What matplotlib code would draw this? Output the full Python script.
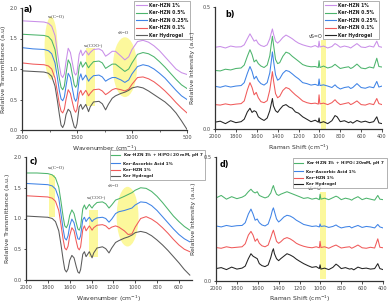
import matplotlib
matplotlib.use("Agg")
import matplotlib.pyplot as plt
from matplotlib.patches import Ellipse, Rectangle
from matplotlib.lines import Line2D

plt.rcParams['font.family'] = ['DejaVu Sans']

# ---------------- data ----------------
FX = [2000, 1900, 1800, 1760, 1730, 1700, 1680, 1660, 1645, 1630, 1615, 1600, 1580, 1560, 1540, 1525,
      1512, 1500, 1480, 1465, 1450, 1435, 1420, 1405, 1395, 1380, 1350, 1300, 1270, 1240, 1215, 1180,
      1150, 1100, 1065, 1030, 1000, 950, 900, 850, 800, 750, 700, 650, 600, 550, 500]

a_hydrogel = [0.97, 0.96, 0.95, 0.93, 0.88, 0.72, 0.50, 0.25, 0.08, 0.04, 0.10, 0.25, 0.34, 0.30, 0.15, 0.05,
              0.03, 0.10, 0.38, 0.42, 0.34, 0.38, 0.42, 0.35, 0.30, 0.38, 0.46, 0.47, 0.43, 0.33, 0.42, 0.52,
              0.56, 0.60, 0.62, 0.65, 0.69, 0.71, 0.69, 0.64, 0.58, 0.52, 0.46, 0.38, 0.28, 0.15, 0.01]
a_hzn01 = [1.10, 1.08, 1.07, 1.05, 1.00, 0.85, 0.64, 0.42, 0.31, 0.28, 0.34, 0.50, 0.66, 0.60, 0.44, 0.33,
           0.29, 0.34, 0.60, 0.65, 0.57, 0.61, 0.65, 0.60, 0.56, 0.60, 0.66, 0.67, 0.64, 0.58, 0.61, 0.66,
           0.68, 0.66, 0.64, 0.67, 0.75, 0.86, 0.87, 0.84, 0.79, 0.72, 0.64, 0.55, 0.45, 0.36, 0.28]
a_hzn025 = [1.35, 1.33, 1.32, 1.30, 1.25, 1.10, 0.88, 0.64, 0.51, 0.48, 0.54, 0.72, 0.93, 0.86, 0.66, 0.52,
            0.47, 0.52, 0.84, 0.92, 0.82, 0.86, 0.90, 0.84, 0.80, 0.84, 0.89, 0.90, 0.87, 0.80, 0.83, 0.86,
            0.86, 0.82, 0.78, 0.82, 0.92, 1.04, 1.07, 1.05, 1.00, 0.93, 0.85, 0.75, 0.65, 0.56, 0.50]
a_hzn05 = [1.57, 1.56, 1.55, 1.53, 1.47, 1.32, 1.08, 0.84, 0.70, 0.66, 0.72, 0.92, 1.15, 1.08, 0.88, 0.74,
           0.70, 0.74, 1.04, 1.12, 1.03, 1.07, 1.11, 1.05, 1.02, 1.06, 1.12, 1.13, 1.10, 1.01, 1.04, 1.08,
           1.08, 1.01, 0.96, 1.00, 1.10, 1.24, 1.27, 1.25, 1.20, 1.12, 1.03, 0.93, 0.83, 0.74, 0.68]
a_hzn1 = [1.79, 1.78, 1.77, 1.75, 1.70, 1.55, 1.30, 1.05, 0.90, 0.86, 0.92, 1.12, 1.34, 1.27, 1.08, 0.94,
          0.90, 0.94, 1.24, 1.31, 1.22, 1.26, 1.30, 1.26, 1.23, 1.27, 1.32, 1.33, 1.30, 1.21, 1.24, 1.29,
          1.29, 1.21, 1.15, 1.20, 1.32, 1.45, 1.47, 1.44, 1.38, 1.30, 1.20, 1.10, 1.00, 0.94, 0.91]

c_hydrogel = [1.04, 1.03, 1.02, 1.00, 0.95, 0.80, 0.58, 0.33, 0.17, 0.13, 0.18, 0.32, 0.40, 0.36, 0.22, 0.13,
              0.11, 0.17, 0.42, 0.46, 0.38, 0.42, 0.46, 0.40, 0.36, 0.44, 0.52, 0.54, 0.51, 0.44, 0.52, 0.61,
              0.64, 0.68, 0.70, 0.73, 0.77, 0.79, 0.77, 0.72, 0.65, 0.57, 0.48, 0.38, 0.28, 0.17, 0.08]
c_hzn1 = [1.37, 1.36, 1.35, 1.33, 1.28, 1.13, 0.90, 0.66, 0.52, 0.49, 0.55, 0.72, 0.85, 0.80, 0.63, 0.52,
          0.49, 0.54, 0.82, 0.88, 0.80, 0.84, 0.88, 0.84, 0.81, 0.85, 0.89, 0.90, 0.88, 0.83, 0.86, 0.88,
          0.86, 0.80, 0.74, 0.75, 0.86, 1.00, 1.03, 0.99, 0.93, 0.85, 0.76, 0.66, 0.57, 0.50, 0.46]
c_ascorbic = [1.57, 1.56, 1.55, 1.53, 1.48, 1.33, 1.08, 0.83, 0.68, 0.65, 0.72, 0.88, 0.99, 0.93, 0.77, 0.67,
              0.66, 0.72, 0.98, 1.02, 0.95, 0.99, 1.02, 0.98, 0.95, 0.98, 1.01, 1.02, 1.00, 0.94, 0.99, 1.08,
              1.11, 1.13, 1.15, 1.17, 1.22, 1.27, 1.26, 1.21, 1.13, 1.03, 0.93, 0.83, 0.74, 0.67, 0.62]
c_h3po4 = [1.74, 1.74, 1.73, 1.71, 1.66, 1.51, 1.28, 1.03, 0.88, 0.85, 0.91, 1.05, 1.14, 1.08, 0.93, 0.83,
           0.81, 0.87, 1.16, 1.22, 1.15, 1.19, 1.23, 1.19, 1.17, 1.21, 1.26, 1.27, 1.24, 1.17, 1.22, 1.30,
           1.32, 1.36, 1.39, 1.42, 1.46, 1.50, 1.49, 1.44, 1.36, 1.26, 1.15, 1.04, 0.95, 0.87, 0.81]

RX = [2000, 1950, 1900, 1850, 1800, 1750, 1720, 1690, 1665, 1645, 1625, 1605, 1585, 1560, 1530, 1500,
      1475, 1460, 1450, 1440, 1420, 1400, 1380, 1350, 1320, 1290, 1260, 1230, 1200, 1160, 1120, 1080,
      1040, 1010, 1003, 995, 960, 920, 880, 850, 830, 800, 760, 720, 700, 680, 640, 600, 560, 520,
      480, 450, 430, 400]

b_hzn1 = [.335, .338, .332, .34, .336, .337, .345, .37, .39, .375, .36, .365, .35, .342, .338, .345,
          .37, .395, .41, .39, .36, .352, .36, .375, .385, .378, .37, .36, .352, .345, .34, .336,
          .342, .335, .36, .336, .34, .332, .338, .35, .345, .335, .34, .336, .332, .338, .35, .336, .334, .34,
          .336, .36, .338, .335]
b_hzn05 = [.24, .238, .245, .242, .248, .25, .262, .298, .325, .305, .275, .283, .268, .258, .252, .262,
           .3, .35, .38, .348, .285, .268, .272, .298, .315, .31, .298, .288, .278, .264, .258, .255,
           .256, .252, .28, .252, .258, .25, .255, .265, .258, .248, .252, .255, .248, .252, .266, .25, .247, .254,
           .25, .29, .256, .254]
b_hzn025 = [.175, .171, .177, .172, .176, .178, .19, .228, .256, .236, .205, .216, .198, .186, .18, .19,
            .23, .28, .316, .282, .222, .2, .206, .228, .24, .236, .226, .215, .206, .19, .186, .18,
            .183, .178, .205, .178, .181, .176, .17, .181, .172, .164, .17, .173, .166, .17, .186, .17, .167, .173,
            .169, .195, .172, .176]
b_hzn01 = [.1, .098, .103, .099, .102, .104, .115, .16, .19, .17, .14, .15, .128, .112, .108, .116,
           .16, .205, .235, .2, .145, .128, .134, .158, .17, .165, .152, .14, .13, .115, .108, .104,
           .106, .102, .14, .103, .106, .1, .108, .12, .11, .1, .104, .108, .1, .104, .115, .1, .098, .104,
           .1, .125, .104, .1]
b_hydrogel = [.028, .032, .022, .034, .026, .03, .04, .07, .085, .068, .075, .07, .05, .042, .035, .045,
              .075, .105, .125, .095, .075, .068, .08, .095, .1, .09, .085, .07, .065, .05, .04, .03,
              .036, .028, .045, .025, .03, .022, .034, .055, .05, .03, .034, .026, .03, .024, .035, .028, .032, .026,
              .03, .05, .025, .022]

d_h3po4 = [.335, .345, .33, .34, .332, .338, .345, .36, .37, .36, .355, .36, .345, .34, .335, .34,
           .355, .375, .385, .37, .35, .345, .35, .355, .36, .355, .35, .345, .34, .333, .336, .33,
           .334, .328, .35, .33, .334, .328, .336, .342, .338, .328, .334, .33, .326, .332, .34, .328, .334, .33,
           .326, .345, .33, .328]
d_ascorbic = [.222, .218, .224, .22, .223, .224, .235, .27, .29, .27, .245, .25, .235, .226, .222, .23,
              .26, .285, .295, .28, .25, .238, .245, .258, .265, .262, .255, .245, .238, .228, .224, .22,
              .222, .218, .23, .22, .222, .216, .22, .226, .22, .214, .218, .22, .214, .218, .224, .216, .22, .218,
              .214, .228, .218, .214]
d_hzn1 = [.135, .132, .138, .134, .136, .138, .15, .185, .2, .185, .16, .17, .152, .142, .138, .145,
          .175, .195, .205, .19, .16, .152, .158, .17, .175, .17, .162, .152, .146, .14, .136, .134,
          .138, .134, .16, .135, .138, .132, .14, .145, .14, .133, .136, .138, .132, .136, .145, .134, .132, .136,
          .133, .17, .136, .134]
d_hydrogel = [.05, .054, .046, .056, .048, .052, .06, .09, .11, .1, .095, .09, .07, .062, .058, .065,
              .095, .12, .13, .11, .09, .082, .09, .1, .11, .105, .098, .088, .08, .07, .062, .055,
              .058, .05, .065, .048, .052, .046, .055, .068, .062, .05, .054, .048, .05, .045, .056, .05, .052, .048,
              .05, .07, .05, .046]

labels_ab = ["Ker-HZN 1%", "Ker-HZN 0.5%", "Ker-HZN 0.25%", "Ker-HZN 0.1%", "Ker Hydrogel"]
labels_c = ["Ker-HZN 1% + H$_3$PO$_4$ 20 mM, pH 7", "Ker-Ascorbic Acid 1%", "Ker-HZN 1%", "Ker Hydrogel"]
labels_d = ["Ker-HZN 1% + H$_3$PO$_4$ 20mM, pH 7", "Ker-Ascorbic Acid 1%", "Ker-HZN 1%", "Ker Hydrogel"]

VIOLET, GREEN, BLUE, RED = "#c98ee8", "#4cb46c", "#3f83e6", "#f05a5a"
GRAY, BLACK = "#5a5a5a", "#222222"
YELLOW = "#fcf89c"

TICK_FS = 3.6
LABEL_FS = 4.4
LEG_FS = 3.3
LEG_FS_CD = 2.95
ANN_FS = 3.5
PANEL_FS = 5.8

W, H = 392, 303
fig = plt.figure(figsize=(W / 100, H / 100), dpi=100)


def add_ax(l, t, r, b):
    return fig.add_axes([l / W, 1 - b / H, (r - l) / W, (b - t) / H])


def style(ax):
    for s in ("top", "right"):
        ax.spines[s].set_visible(False)
    for s in ("left", "bottom"):
        ax.spines[s].set_linewidth(0.9)
        ax.spines[s].set_color("#333333")
    ax.tick_params(axis="both", which="major", labelsize=TICK_FS, length=1.8, width=0.6, pad=1.5,
                   direction="out", colors="#333333", labelcolor="#444444")
    ax.tick_params(axis="both", which="minor", length=1.1, width=0.5, direction="out", colors="#333333")
    ax.patch.set_alpha(0)


def legend(ax, handles_colors, labels, bbox, fs, hl=2.4):
    hs = [Line2D([0], [0], color=c, lw=0.8) for c in handles_colors]
    lg = ax.legend(hs, labels, loc="upper left", bbox_to_anchor=bbox, bbox_transform=fig.transFigure,
                   fontsize=fs, frameon=True, fancybox=False, edgecolor="#777777", handlelength=hl,
                   handletextpad=0.6, borderpad=0.35, labelspacing=0.55, borderaxespad=0)
    lg.get_frame().set_linewidth(0.5)
    for t in lg.get_texts():
        t.set_fontweight("bold")
        t.set_color("#222222")
    lg.set_zorder(10)
    return lg


serif = ["Liberation Serif", "DejaVu Serif"]

# ---------------- panel a ----------------
ax = add_ax(22, 8, 187, 130)
style(ax)
ax.set_xlim(2000, 500)
ax.set_ylim(0, 2.0)
ax.add_patch(Ellipse((1736, 1.34), 118, 1.03, color=YELLOW, lw=0, zorder=0))
ax.add_patch(Rectangle((1336, 0.39), 82, 0.95, color=YELLOW, lw=0, zorder=0))
ax.add_patch(Ellipse((1064, 1.03), 218, 0.98, color=YELLOW, lw=0, zorder=0))
for y, c in zip([a_hzn1, a_hzn05, a_hzn025, a_hzn01, a_hydrogel], [VIOLET, GREEN, BLUE, RED, GRAY]):
    ax.plot(FX, y, color=c, lw=0.75)
ax.set_xticks([2000, 1500, 1000, 500])
ax.set_xticks([1750, 1250, 750], minor=True)
ax.set_yticks([0.0, 0.5, 1.0, 1.5, 2.0])
ax.set_yticklabels(["0.0", "0.5", "1.0", "1.5", "2.0"])
ax.set_xlabel("Wavenumber (cm$^{-1}$)", fontsize=LABEL_FS, labelpad=3, color="#333333")
ax.set_ylabel("Relative Transmittance (a.u)", fontsize=LABEL_FS, labelpad=2.5, color="#333333")
ax.text(0.01, 0.985, "a)", transform=ax.transAxes, fontsize=PANEL_FS, fontweight="bold", va="center")
ax.text(1690, 1.86, "νs(C=O)", fontsize=ANN_FS, family=serif, ha="center", va="center", color="#333333")
ax.text(1350, 1.40, "νs(COO-)", fontsize=ANN_FS, family=serif, ha="center", va="center", color="#333333")
ax.text(1080, 1.59, "νS=O", fontsize=ANN_FS, family=serif, ha="center", va="center", color="#333333")
legend(ax, [VIOLET, GREEN, BLUE, RED, GRAY], labels_ab, (134 / W, 1 - 1 / H), LEG_FS)

# ---------------- panel b ----------------
ax = add_ax(215, 7, 382, 129)
style(ax)
ax.set_xlim(2000, 400)
ax.set_ylim(0, 0.5)
ax.add_patch(Rectangle((935, 0.0), 50, 0.365, color=YELLOW, lw=0, zorder=0))
for y, c in zip([b_hzn1, b_hzn05, b_hzn025, b_hzn01, b_hydrogel], [VIOLET, GREEN, BLUE, RED, BLACK]):
    ax.plot(RX, y, color=c, lw=0.75)
ax.set_xticks(range(2000, 399, -200))
ax.set_yticks([0.0, 0.5])
ax.set_yticklabels(["0.0", "0.5"])
ax.set_xlabel("Raman Shift (cm$^{-1}$)", fontsize=LABEL_FS, labelpad=3, color="#333333")
ax.set_ylabel("Relative Intensity (a.u.)", fontsize=LABEL_FS, labelpad=5, color="#333333")
ax.text(0.06, 0.94, "b)", transform=ax.transAxes, fontsize=PANEL_FS, fontweight="bold", va="center")
ax.text(1040, 0.378, "νS=O", fontsize=ANN_FS, ha="center", va="center", color="#333333")
legend(ax, [VIOLET, GREEN, BLUE, RED, BLACK], labels_ab, (323 / W, 1 - 1 / H), LEG_FS)

# ---------------- panel c ----------------
ax = add_ax(26, 157, 192, 280)
style(ax)
ax.set_xlim(2000, 480)
ax.set_ylim(0, 2.0)
ax.add_patch(Rectangle((1738, 1.02), 54, 0.69, color=YELLOW, lw=0, zorder=0))
ax.add_patch(Rectangle((1340, 0.37), 82, 0.77, color=YELLOW, lw=0, zorder=0))
ax.add_patch(Ellipse((1070, 1.03), 200, 0.97, color=YELLOW, lw=0, zorder=0))
for y, c in zip([c_h3po4, c_ascorbic, c_hzn1, c_hydrogel], [GREEN, BLUE, RED, GRAY]):
    ax.plot(FX, y, color=c, lw=0.75)
ax.set_xticks(range(2000, 599, -200))
ax.set_yticks([0.0, 0.5, 1.0, 1.5, 2.0])
ax.set_yticklabels(["0.0", "0.5", "1.0", "1.5", "2.0"])
ax.set_xlabel("Wavenumber (cm$^{-1}$)", fontsize=LABEL_FS, labelpad=3, color="#333333")
ax.set_ylabel("Relative Transmittance (a.u.)", fontsize=LABEL_FS, labelpad=2.5, color="#333333")
ax.text(0.02, 0.96, "c)", transform=ax.transAxes, fontsize=PANEL_FS, fontweight="bold", va="center")
ax.text(1720, 1.83, "νs(C=O)", fontsize=ANN_FS, family=serif, ha="center", va="center", color="#333333")
ax.text(1350, 1.35, "νs(COO-)", fontsize=ANN_FS, family=serif, ha="center", va="center", color="#333333")
ax.text(1200, 1.53, "νS=O", fontsize=ANN_FS, family=serif, ha="center", va="center", color="#333333")
legend(ax, [GREEN, BLUE, RED, GRAY], labels_c, (110 / W, 1 - 150 / H), LEG_FS_CD, hl=2.2)

# ---------------- panel d ----------------
ax = add_ax(216, 157, 383, 281)
style(ax)
ax.set_xlim(2000, 400)
ax.set_ylim(0, 0.5)
ax.add_patch(Rectangle((946, 0.01), 58, 0.35, color=YELLOW, lw=0, zorder=0))
for y, c in zip([d_h3po4, d_ascorbic, d_hzn1, d_hydrogel], [GREEN, BLUE, RED, BLACK]):
    ax.plot(RX, y, color=c, lw=0.75)
ax.set_xticks(range(2000, 399, -200))
ax.set_yticks([0.0, 0.5])
ax.set_yticklabels(["0.0", "0.5"])
ax.set_xlabel("Raman Shift (cm$^{-1}$)", fontsize=LABEL_FS, labelpad=2, color="#333333")
ax.set_ylabel("Relative Intensity (a.u.)", fontsize=LABEL_FS, labelpad=5, color="#333333")
ax.text(0.02, 0.94, "d)", transform=ax.transAxes, fontsize=PANEL_FS, fontweight="bold", va="center")
ax.text(1055, 0.375, "νS=O", fontsize=ANN_FS, ha="center", va="center", color="#333333")
legend(ax, [GREEN, BLUE, RED, BLACK], labels_d, (293 / W, 1 - 158 / H), LEG_FS_CD, hl=2.2)

fig.savefig("out.png", dpi=100)
